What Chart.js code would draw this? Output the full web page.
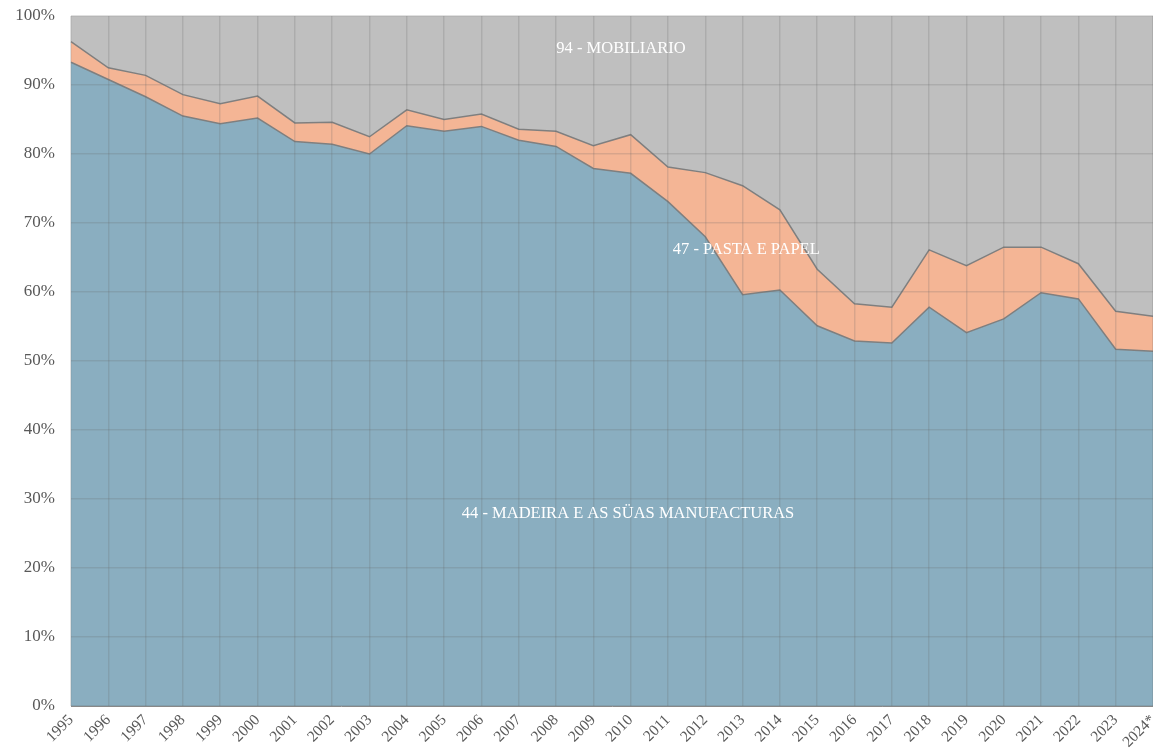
<!DOCTYPE html>
<html>
<head>
<meta charset="utf-8">
<script src="https://cdn.jsdelivr.net/npm/chart.js@4"></script>
<style>
  html, body { margin: 0; padding: 0; background: #fff; }
  #wrap { width: 1153px; height: 754px; }
</style>
</head>
<body>
<div id="wrap"><canvas id="chart"></canvas></div>
<script>
const years = ['1995', '1996', '1997', '1998', '1999', '2000', '2001', '2002', '2003', '2004',
    '2005', '2006', '2007', '2008', '2009', '2010', '2011', '2012', '2013', '2014',
    '2015', '2016', '2017', '2018', '2019', '2020', '2021', '2022', '2023', '2024*'];

// 44 - madeira (share of total, %)
const madeira = [93.3, 90.8, 88.3, 85.5, 84.4, 85.2, 81.8, 81.4, 80.0, 84.1,
    83.3, 84.0, 82.0, 81.1, 77.9, 77.2, 73.1, 68.0, 59.6, 60.3,
    55.1, 52.9, 52.6, 57.8, 54.1, 56.1, 59.9, 59.0, 51.7, 51.4];

// 47 - pasta e papel
const pasta = [3.0, 1.7, 3.1, 3.1, 2.9, 3.2, 2.7, 3.2, 2.5, 2.3,
    1.7, 1.8, 1.6, 2.2, 3.3, 5.6, 5.0, 9.3, 15.8, 11.6,
    8.2, 5.4, 5.2, 8.3, 9.7, 10.4, 6.6, 5.1, 5.5, 5.1];

// 94 - mobiliario
const mobiliario = madeira.map((v, i) => +(100 - v - pasta[i]).toFixed(1));

const seriesNames = ['44 - MADEIRA E AS SÜAS MANUFACTURAS', '47 - PASTA E PAPEL', '94 - MOBILIARIO'];
const yTicks = [0, 10, 20, 30, 40, 50, 60, 70, 80, 90, 100];

// where each series name is written inside its band (x index, y value)
const nameSpots = [
    { x: 14.93, y: 27.9 },
    { x: 18.1, y: 66.1 },
    { x: 14.74, y: 95.2 }
];

const serif = '"Liberation Serif", "DejaVu Serif", serif';

const areaNames = {
    id: 'areaNames',
    afterDraw(chart) {
        const { ctx, scales } = chart;
        ctx.save();
        ctx.font = '16.5px ' + serif;
        ctx.fillStyle = '#ffffff';
        ctx.textAlign = 'center';
        ctx.textBaseline = 'middle';
        nameSpots.forEach((p, i) => {
            ctx.fillText(seriesNames[i], scales.x.getPixelForValue(p.x), scales.y.getPixelForValue(p.y));
        });
        ctx.restore();
    }
};

const lineColor = '#7f7f7f';
const gridColor = 'rgba(100,100,100,0.2)';

new Chart(document.getElementById('chart'), {
    type: 'line',
    data: {
        labels: years,
        datasets: [
            { label: seriesNames[0], data: madeira, backgroundColor: '#8aaec0', fill: 'origin' },
            { label: seriesNames[1], data: pasta, backgroundColor: '#f4b595', fill: '-1' },
            { label: seriesNames[2], data: mobiliario, backgroundColor: '#bfbfbf', fill: '-1', borderWidth: 0 }
        ].map(d => Object.assign({
            borderColor: lineColor,
            borderWidth: 1.5,
            pointRadius: 0,
            tension: 0
        }, d))
    },
    options: {
        responsive: true,
        maintainAspectRatio: false,
        animation: false,
        layout: { padding: { top: 16, right: 0, left: 0, bottom: 0 } },
        plugins: {
            legend: { display: false },
            tooltip: { enabled: false }
        },
        scales: {
            x: {
                offset: false,
                grid: { color: gridColor, lineWidth: 1.5, drawTicks: false, z: 1 },
                border: { color: '#8c8c8c', width: 1, z: 1 },
                ticks: {
                    minRotation: 45,
                    maxRotation: 45,
                    autoSkip: false,
                    padding: 5,
                    color: '#595959',
                    font: { family: serif, size: 15.5 }
                },
                afterFit(scale) {
                    scale.height = 48;
                    scale.paddingLeft = 0;
                    scale.paddingRight = 0;
                }
            },
            y: {
                stacked: true,
                min: 0,
                max: 100,
                afterBuildTicks(scale) {
                    scale.ticks = yTicks.map(v => ({ value: v }));
                },
                grid: { color: gridColor, lineWidth: 1.5, drawTicks: false, z: 1 },
                border: { display: false },
                ticks: {
                    padding: 16,
                    color: '#595959',
                    font: { family: serif, size: 17 },
                    callback: v => v + '%'
                },
                afterFit(scale) {
                    scale.width = 71;
                    scale.paddingTop = 0;
                }
            }
        }
    },
    plugins: [areaNames]
});
</script>
</body>
</html>
